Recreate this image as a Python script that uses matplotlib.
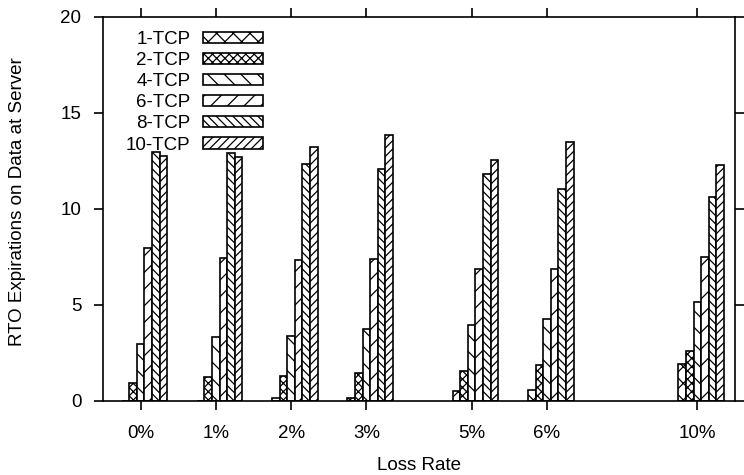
import matplotlib
matplotlib.use("Agg")
import matplotlib.pyplot as plt
import numpy as np

plt.rcParams['font.family'] = ['Liberation Sans', 'DejaVu Sans']
plt.rcParams['hatch.linewidth'] = 0.9

loss_labels = ["0%", "1%", "2%", "3%", "5%", "6%", "10%"]
loss_positions = [0, 1, 2, 3, 4.4, 5.4, 7.4]
series_names = ["1-TCP", "2-TCP", "4-TCP", "6-TCP", "8-TCP", "10-TCP"]
tcp1 = [0.0, 0.0, 0.17, 0.17, 0.5, 0.57, 1.94]
tcp2 = [0.95, 1.25, 1.32, 1.44, 1.57, 1.87, 2.62]
tcp4 = [2.95, 3.32, 3.4, 3.73, 3.96, 4.25, 5.17]
tcp6 = [7.98, 7.45, 7.36, 7.38, 6.88, 6.89, 7.52]
tcp8 = [12.98, 12.9, 12.36, 12.05, 11.82, 11.02, 10.6]
tcp10 = [12.76, 12.7, 13.21, 13.84, 12.52, 13.5, 12.26]
series = [tcp1, tcp2, tcp4, tcp6, tcp8, tcp10]
hatches = ['xx', 'xxxx', '\\' * 2, '/' * 2, '\\' * 4, '/' * 4]

FS = 13.5

fig = plt.figure(figsize=(7.44, 4.75), dpi=100)
ax = fig.add_axes([0.1384, 0.1558, 0.988 - 0.1384, 0.9648 - 0.1558])

w = 0.101
x = np.array(loss_positions)
handles = []
for i, (vals, name, h) in enumerate(zip(series, series_names, hatches)):
    b = ax.bar(x + (i - 2) * w, vals, width=w, facecolor='white',
               edgecolor='black', linewidth=1.2, hatch=h, label=name, zorder=2)
    handles.append(b)

ax.set_xlim(-0.5, 7.9)
ax.set_ylim(0, 20)
ax.set_xticks(loss_positions)
ax.set_xticklabels(loss_labels)
ax.set_yticks([0, 5, 10, 15, 20])
ax.tick_params(axis='both', direction='out', length=6.5, width=1.2, labelsize=FS,
               top=True, right=True)
ax.tick_params(axis='x', pad=11)
ax.tick_params(axis='y', pad=9)
for s in ax.spines.values():
    s.set_linewidth(1.2)

ax.set_xlabel("Loss Rate", fontsize=FS)
ax.set_ylabel("RTO Expirations on Data at Server", fontsize=FS)
ax.xaxis.set_label_coords(0.5, -0.146)
ax.yaxis.set_label_coords(-0.122, 0.52)

leg = ax.legend(handles=handles, loc='upper right', bbox_to_anchor=(0.253, 0.963),
                frameon=False, markerfirst=False, fontsize=FS,
                handlelength=3.2, handleheight=0.55, labelspacing=0.22,
                handletextpad=0.65, borderaxespad=0.0, borderpad=0.0)

fig.savefig("out.png", dpi=100)
